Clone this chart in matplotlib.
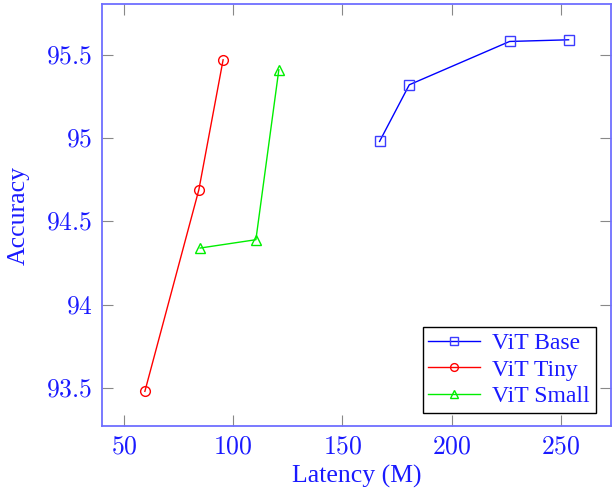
import matplotlib
matplotlib.use('Agg')
import matplotlib.pyplot as plt
from matplotlib.ticker import FuncFormatter

plt.rcParams['font.family'] = ['Liberation Serif', 'DejaVu Serif']
plt.rcParams['mathtext.fontset'] = 'cm'

# 数据
base_x = [167.0, 180.6, 226.5, 253.5]
base_y = [94.98, 95.32, 95.58, 95.59]
tiny_x = [59.6, 84.3, 95.4]
tiny_y = [93.48, 94.69, 95.47]
small_x = [84.9, 110.4, 120.9]
small_y = [94.34, 94.39, 95.41]

x_ticks = [50, 100, 150, 200, 250]
y_ticks = [93.5, 94, 94.5, 95, 95.5]

spine_c = '#6e6eff'
label_c = '#1a1aff'

fig = plt.figure(figsize=(6.13, 4.91), dpi=100)
ax = fig.add_axes([0.1672, 0.1318, 0.8295, 0.8601])

ax.plot(base_x, base_y, color='blue', lw=1.0, marker='s', ms=7,
        mfc='none', mec='#3c3cff', mew=1.0, label='ViT Base')
ax.plot(tiny_x, tiny_y, color='red', lw=1.0, marker='o', ms=7,
        mfc='none', mec='red', mew=1.0, label='ViT Tiny')
ax.plot(small_x, small_y, color='#00ee00', lw=1.0, marker='^', ms=7,
        mfc='none', mec='#00ee00', mew=1.0, label='ViT Small')

ax.set_xlim(40.2, 272.9)
ax.set_ylim(93.27, 95.805)
ax.set_xticks(x_ticks)
ax.set_yticks(y_ticks)
fmt = FuncFormatter(lambda v, p: f'${v:g}$')
ax.xaxis.set_major_formatter(fmt)
ax.yaxis.set_major_formatter(fmt)

for s in ax.spines.values():
    s.set_color(spine_c)
    s.set_linewidth(1.3)
ax.tick_params(direction='in', length=8, width=0.8, color='#888888',
               labelcolor=label_c, labelsize=18.5, top=True, right=True, pad=7)

ax.set_xlabel('Latency (M)', fontsize=18.5, color=label_c, labelpad=5)
ax.set_ylabel('Accuracy', fontsize=18.5, color=label_c, labelpad=12)

leg = ax.legend(loc='lower right', bbox_to_anchor=(0.97, 0.032), fontsize=17,
                frameon=True, fancybox=False, edgecolor='black', framealpha=1,
                handlelength=2.2, borderpad=0.25, labelspacing=0.2, handletextpad=0.5,
                borderaxespad=0, markerscale=0.8)
leg.get_frame().set_linewidth(1.0)
for t in leg.get_texts():
    t.set_color(label_c)

fig.savefig('out.png', dpi=100)
